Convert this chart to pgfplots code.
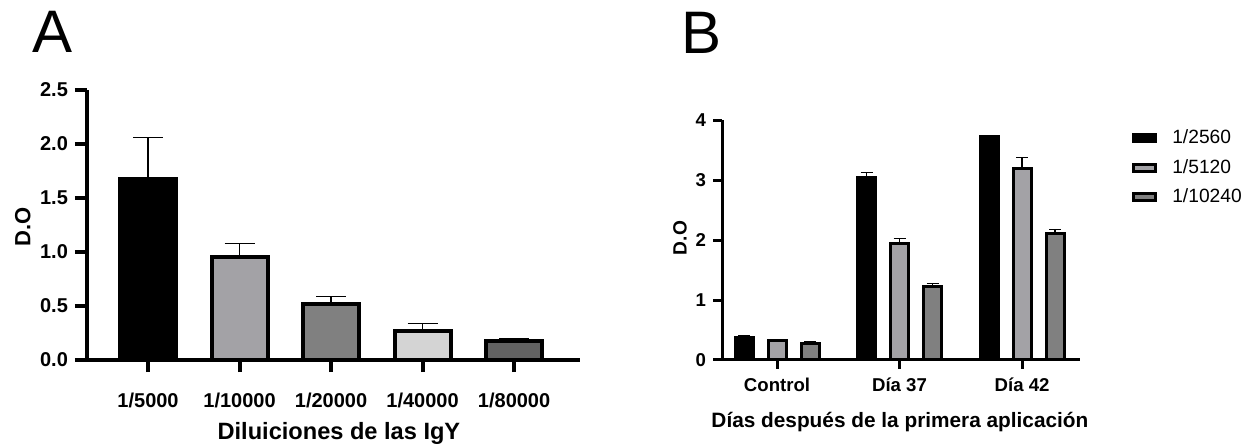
\documentclass[border=0pt]{standalone}
\usepackage{pgfplots}
\pgfplotsset{compat=1.18}
\usepackage{fontspec}
\setmainfont{Liberation Sans}
\definecolor{gA}{RGB}{163,162,166}
\definecolor{gB}{RGB}{128,128,128}
\definecolor{gC}{RGB}{212,212,212}
\definecolor{gD}{RGB}{98,98,98}
\begin{document}
\begin{tikzpicture}
\path[use as bounding box] (0,0) rectangle (629.5pt,222.5pt);
\node[inner sep=0pt, font=\fontsize{30}{36}\selectfont] at (26.5pt,206.75pt) {A};
\node[inner sep=0pt, font=\fontsize{30}{36}\selectfont] at (351pt,206pt) {B};
% Panel A
\begin{axis}[
  at={(43.5pt,42.5pt)}, anchor=south west, scale only axis,
  width=246.5pt, height=135pt,
  xmin=-0.667, xmax=4.72, ymin=0, ymax=2.5,
  axis x line=bottom, axis y line=left,
  axis line style={-, line width=2pt, black},
  tick align=outside, major tick length=6pt,
  tick style={line width=2pt, black},
  xtick={0,1,2,3,4},
  xticklabels={1/5000,1/10000,1/20000,1/40000,1/80000},
  ytick={0,0.5,1,1.5,2,2.5},
  yticklabels={0.0,0.5,1.0,1.5,2.0,2.5},
  ticklabel style={font=\fontsize{10}{12}\selectfont\bfseries},
  xticklabel style={yshift=-7pt},
  xlabel={Diluiciones de las IgY},
  ylabel={D.O},
  xlabel style={font=\fontsize{11.8}{14}\selectfont\bfseries, at={(axis description cs:0.511,-0.272)}, anchor=center},
  ylabel style={font=\fontsize{11}{13}\selectfont\bfseries, at={(axis description cs:-0.130,0.493)}, anchor=center},
  ybar, bar width=28pt,
  error bars/y dir=plus, error bars/y explicit,
  error bars/error bar style={line width=0.75pt, black},
  error bars/error mark options={rotate=90, mark size=7.5pt, line width=0.75pt, black},
  clip=false,
]
\addplot[fill=black, draw=black, line width=2pt, bar shift=0pt] coordinates {(0,1.68) +- (0,0.38)};
\addplot[fill=gA, draw=black, line width=2pt, bar shift=0pt] coordinates {(1,0.955) +- (0,0.125)};
\addplot[fill=gB, draw=black, line width=2pt, bar shift=0pt] coordinates {(2,0.52) +- (0,0.07)};
\addplot[fill=gC, draw=black, line width=2pt, bar shift=0pt] coordinates {(3,0.27) +- (0,0.07)};
\addplot[fill=gD, draw=black, line width=2pt, bar shift=0pt] coordinates {(4,0.175) +- (0,0.025)};
\end{axis}
% Panel B
\begin{axis}[
  at={(361pt,42.5pt)}, anchor=south west, scale only axis,
  width=179pt, height=120pt,
  xmin=-0.449, xmax=2.473, ymin=0, ymax=4,
  axis x line=bottom, axis y line=left,
  axis line style={-, line width=1.5pt, black},
  tick align=outside, major tick length=4.5pt,
  tick style={line width=1.5pt, black},
  xtick={0,1,2},
  xticklabels={Control,Día 37,Día 42},
  ytick={0,1,2,3,4},
  yticklabels={0,1,2,3,4},
  ticklabel style={font=\fontsize{9.3}{11}\selectfont\bfseries},
  xticklabel style={yshift=-1pt},
  xlabel={Días después de la primera aplicación},
  ylabel={D.O},
  xlabel style={font=\fontsize{10.4}{12.5}\selectfont\bfseries, at={(axis description cs:0.497,-0.258)}, anchor=center},
  ylabel style={font=\fontsize{9.6}{11.5}\selectfont\bfseries, at={(axis description cs:-0.117,0.508)}, anchor=center},
  ybar, bar width=9pt,
  error bars/y dir=plus, error bars/y explicit,
  error bars/error bar style={line width=0.6pt, black},
  error bars/error mark options={rotate=90, mark size=3pt, line width=0.6pt, black},
  legend style={at={(axis description cs:1.145,0.9625)}, anchor=north west, draw=none, fill=none, inner sep=0pt, row sep=6.4pt, column sep=7.5pt, font=\fontsize{9.6}{11.5}\selectfont, nodes={inner sep=0pt}},
  legend cell align=left,
  legend image code/.code={\draw[#1, line width=1.5pt] (0.75pt,-1.75pt) rectangle (11.75pt,1.75pt);},
  clip=false,
]
\addplot[fill=black, draw=black, line width=1.5pt, bar shift=-16.5pt] coordinates {(0,0.375) +- (0,0.04) (1,3.04) +- (0,0.09) (2,3.72) +- (0,0)};
\addplot[fill=gA, draw=black, line width=1.5pt, bar shift=0pt] coordinates {(0,0.32) +- (0,0) (1,1.94) +- (0,0.08) (2,3.19) +- (0,0.19)};
\addplot[fill=gB, draw=black, line width=1.5pt, bar shift=16.5pt] coordinates {(0,0.28) +- (0,0.03) (1,1.225) +- (0,0.055) (2,2.11) +- (0,0.07)};
\legend{1/2560,1/5120,1/10240}
\end{axis}
\end{tikzpicture}
\end{document}
